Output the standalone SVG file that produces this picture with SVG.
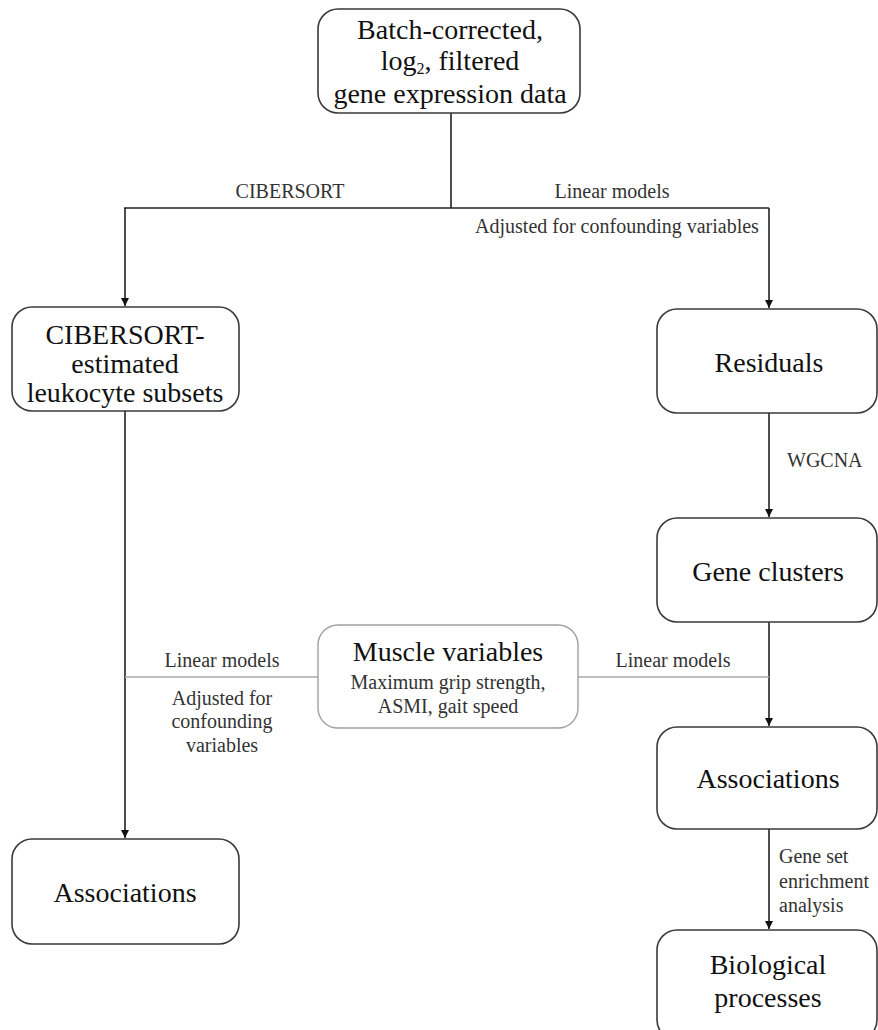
<svg xmlns="http://www.w3.org/2000/svg" width="878" height="1030" viewBox="0 0 878 1030">
<style>
.box{fill:#fff;stroke:#3a3a3a;stroke-width:1.6}
.gbox{fill:#fff;stroke:#a0a0a0;stroke-width:1.4}
.t{font-family:"Liberation Serif","Times New Roman",serif;font-size:28px;fill:#111;text-anchor:middle}
.s{font-family:"Liberation Serif","Times New Roman",serif;font-size:20px;fill:#333}
.m{text-anchor:middle}
.ln{stroke:#222;stroke-width:1.6;fill:none}
.gl{stroke:#aaa;stroke-width:1.4;fill:none}
</style>
<defs>
<marker id="ah" markerWidth="10" markerHeight="10" refX="8" refY="4" orient="auto" markerUnits="userSpaceOnUse">
<path d="M0,0 L8,4 L0,8 z" fill="#111"/>
</marker>
</defs>
<rect width="878" height="1030" fill="#fff"/>
<g id="connectors">
<path class="ln" d="M451,113 V208"/>
<path class="ln" d="M124,208 H769"/>
<path class="ln" d="M125,208 V306" marker-end="url(#ah)"/>
<path class="ln" d="M769,208 V308" marker-end="url(#ah)"/>
<path class="ln" d="M125,411 V838" marker-end="url(#ah)"/>
<path class="ln" d="M769,413 V517" marker-end="url(#ah)"/>
<path class="ln" d="M769,622 V726" marker-end="url(#ah)"/>
<path class="ln" d="M769,829 V929" marker-end="url(#ah)"/>
<path class="gl" d="M125,677 H318"/>
<path class="gl" d="M578,677 H769"/>
<text class="s m" x="290" y="198">CIBERSORT</text>
<text class="s m" x="612" y="198">Linear models</text>
<text class="s m" x="617" y="233">Adjusted for confounding variables</text>
<text class="s" x="787" y="467">WGCNA</text>
<text class="s m" x="222" y="667">Linear models</text>
<text class="s m" x="222" y="705">Adjusted for</text>
<text class="s m" x="222" y="728">confounding</text>
<text class="s m" x="222" y="752">variables</text>
<text class="s m" x="673" y="667">Linear models</text>
<text class="s" x="779" y="863">Gene set</text>
<text class="s" x="779" y="888">enrichment</text>
<text class="s" x="779" y="912">analysis</text>
</g>
<g id="node-data">
<rect class="box" x="318" y="9" width="262" height="104" rx="20"/>
<text class="t" x="450" y="39">Batch-corrected,</text>
<text class="t" x="450" y="70">log<tspan font-size="16" dy="4">2</tspan><tspan dy="-4">, filtered</tspan></text>
<text class="t" x="450" y="103">gene expression data</text>
</g>
<g id="node-cibersort">
<rect class="box" x="12" y="307" width="227" height="104" rx="20"/>
<text class="t" x="125" y="344">CIBERSORT-</text>
<text class="t" x="125" y="373">estimated</text>
<text class="t" x="125" y="402">leukocyte subsets</text>
</g>
<g id="node-residuals">
<rect class="box" x="657" y="309" width="220" height="104" rx="20"/>
<text class="t" x="769" y="372">Residuals</text>
</g>
<g id="node-geneclusters">
<rect class="box" x="657" y="518" width="220" height="104" rx="20"/>
<text class="t" x="768" y="581">Gene clusters</text>
</g>
<g id="node-muscle">
<rect class="gbox" x="318" y="625" width="260" height="103" rx="20"/>
<text class="t" x="448" y="661" font-size="27">Muscle variables</text>
<text class="s m" x="448" y="689" font-size="21">Maximum grip strength,</text>
<text class="s m" x="448" y="713" font-size="21">ASMI, gait speed</text>
</g>
<g id="node-assoc-right">
<rect class="box" x="657" y="727" width="220" height="102" rx="20"/>
<text class="t" x="768" y="788">Associations</text>
</g>
<g id="node-assoc-left">
<rect class="box" x="12" y="839" width="227" height="105" rx="20"/>
<text class="t" x="125" y="902">Associations</text>
</g>
<g id="node-bio">
<rect class="box" x="657" y="930" width="220" height="110" rx="20"/>
<text class="t" x="768" y="974">Biological</text>
<text class="t" x="768" y="1007">processes</text>
</g>
</svg>
